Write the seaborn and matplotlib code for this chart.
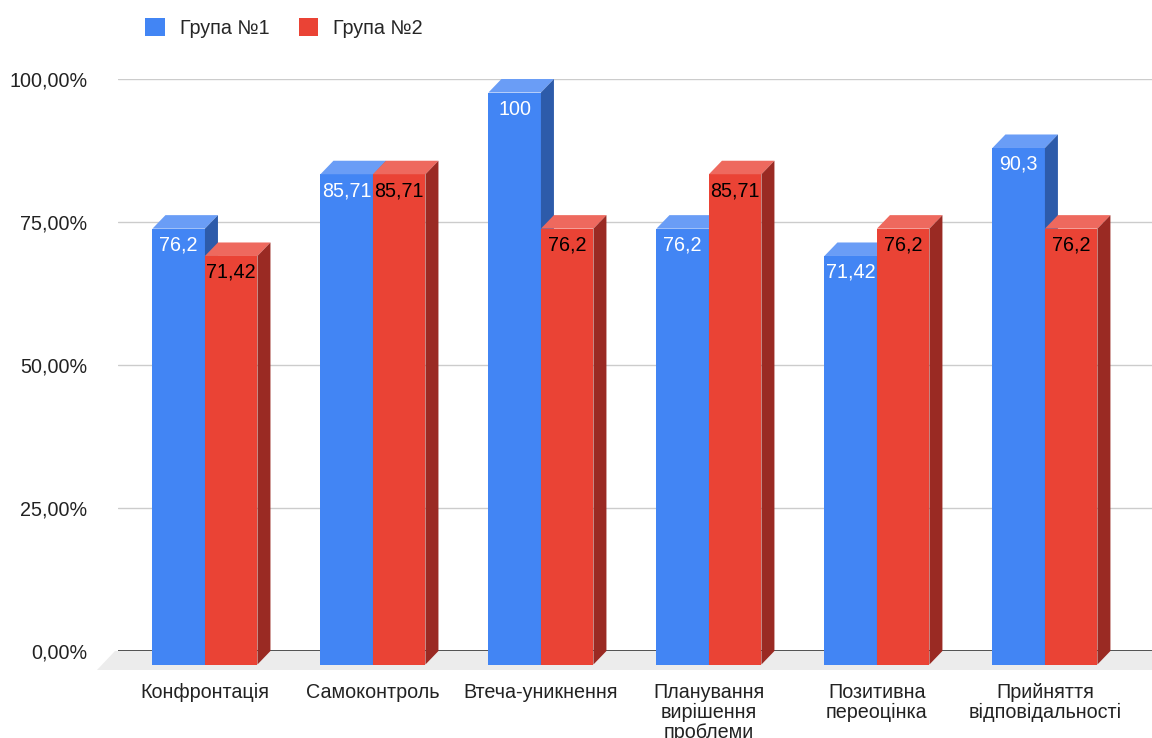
import numpy as np
import pandas as pd
import matplotlib
matplotlib.use("Agg")
import matplotlib.pyplot as plt
from matplotlib.patches import Polygon, Patch
import seaborn as sns

# donnees
categories = ["Конфронтація", "Самоконтроль", "Втеча-уникнення",
              "Планування\nвирішення\nпроблеми", "Позитивна\nпереоцінка",
              "Прийняття\nвідповідальності"]
group1 = [76.2, 85.71, 100, 76.2, 71.42, 90.3]
group2 = [71.42, 85.71, 76.2, 85.71, 76.2, 76.2]
series = ["Група №1", "Група №2"]
yticks = [0, 25, 50, 75, 100]
ytick_labels = ["0,00%", "25,00%", "50,00%", "75,00%", "100,00%"]

df = pd.DataFrame({
    "cat": categories * 2,
    "value": group1 + group2,
    "group": [series[0]] * len(categories) + [series[1]] * len(categories),
})

front = {series[0]: "#4285F4", series[1]: "#EA4335"}
top = {series[0]: "#6A9DF6", series[1]: "#EE695E"}
side = {series[0]: "#2D5BAA", series[1]: "#9A2A23"}
text_col = {series[0]: "white", series[1]: "black"}

sns.set_theme(style="white")
plt.rcParams["font.family"] = ["Liberation Sans", "DejaVu Sans"]
FS = 14.2

W, H = 1152, 738
fig = plt.figure(figsize=(W / 100, H / 100), dpi=100)
ax = fig.add_axes([118 / W, 87 / H, 1034 / W, 572 / H])

sns.barplot(data=df, x="cat", y="value", hue="group", palette=front,
            width=0.625, legend=False, ax=ax, saturation=1)

ax.set_ylim(0, 100)
ax.set_xlim(-0.595, 5.56)

# profondeur 3d en unites de donnees
px_x = 168.0           # px par categorie
px_y = 572 / 100.0     # px par unite
dx = 13 / px_x
dy = 13.5 / px_y

bars = sorted(ax.patches, key=lambda p: p.get_x())
for i, p in enumerate(bars):
    g = series[i % 2]
    v = p.get_height()
    x0 = p.get_x()
    x1 = x0 + p.get_width()
    z = 3 + i * 0.01
    p.set_xy((x0 - dx, -dy))
    p.set_edgecolor("none")
    p.set_linewidth(0)
    p.set_clip_on(False)
    p.set_zorder(z)
    ax.add_patch(Polygon([(x0 - dx, v - dy), (x1 - dx, v - dy), (x1, v), (x0, v)],
                         closed=True, facecolor=top[g], edgecolor="none",
                         clip_on=False, zorder=z))
    ax.add_patch(Polygon([(x1 - dx, -dy), (x1, 0), (x1, v), (x1 - dx, v - dy)],
                         closed=True, facecolor=side[g], edgecolor="none",
                         clip_on=False, zorder=z))
    ax.text((x0 + x1) / 2 - dx, v - dy - 16.5 / px_y, f"{v:g}".replace(".", ","),
            ha="center", va="center", fontsize=FS, color=text_col[g], zorder=z + 0.005)

# sol gris
xl0, xl1 = ax.get_xlim()
fy = 19 / px_y
fx = 18 / px_x
ax.add_patch(Polygon([(xl0 - 3 / px_x, 0), (xl1 + 1, 0), (xl1 + 1, -fy), (xl0 - 3 / px_x - fx, -fy)],
                     closed=True, facecolor="#ececec", edgecolor="none",
                     clip_on=False, zorder=1))
ax.axhline(0, color="#333333", lw=1.2, zorder=2)
for t in yticks[1:]:
    ax.axhline(t, color="#cccccc", lw=1, zorder=0.5)

ax.set_yticks(yticks, ytick_labels)
ax.set_xticks(np.arange(len(categories)) - dx, categories)
ax.tick_params(axis="y", length=0, pad=22, labelsize=FS, colors="#222222")
ax.tick_params(axis="x", length=0, pad=23, labelsize=FS, colors="#222222")
for lab in ax.get_xticklabels():
    lab.set_linespacing(1.05)
ax.set_xlabel("")
ax.set_ylabel("")
for s in ax.spines.values():
    s.set_visible(False)

handles = [Patch(facecolor=front[s], edgecolor="none", label=s) for s in series]
fig.legend(handles=handles, loc="upper left", bbox_to_anchor=(145 / W, 1 - 18 / H),
           ncol=2, frameon=False, fontsize=FS, handlelength=1.0, handleheight=1.0,
           handletextpad=0.75, columnspacing=1.5, borderpad=0, borderaxespad=0)

fig.savefig("out.png", dpi=100, facecolor="white")
